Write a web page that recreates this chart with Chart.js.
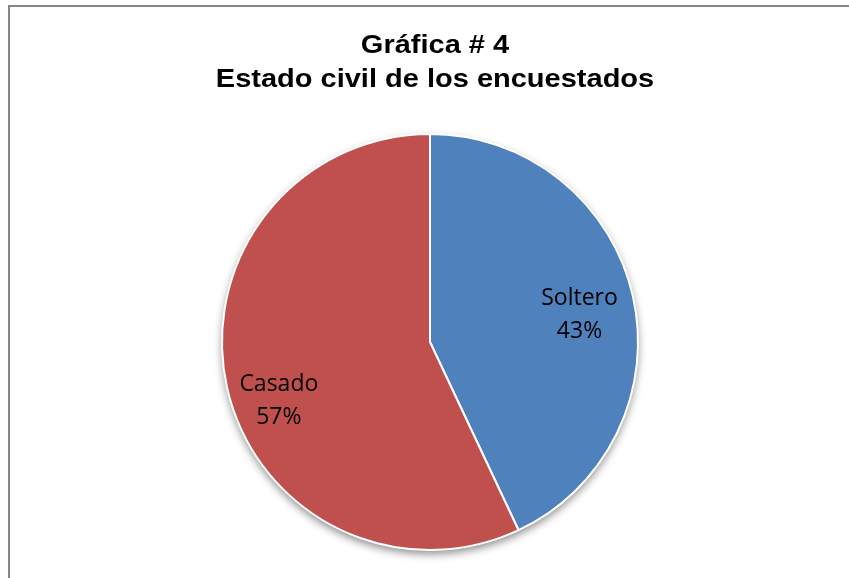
<!DOCTYPE html>
<html>
<head>
<meta charset="utf-8">
<script src="https://cdn.jsdelivr.net/npm/chart.js@4/dist/chart.umd.min.js"></script>
<style>
  html, body { margin: 0; padding: 0; background: #fff; }
  #wrap { position: relative; width: 849px; height: 578px; }
</style>
</head>
<body>
<div id="wrap"><canvas id="estadoChart" width="849" height="578"></canvas></div>
<script>
// ==================== DATA ====================
const categories = ['Soltero', 'Casado'];
const percentages = [43, 57];
const sliceColors = ['#4F81BD', '#C0504D'];
const titleLines = ['Gráfica # 4', 'Estado civil de los encuestados'];

// ==================== PLUGINS ====================
// grey frame (only top and left edges are visible in the picture)
const framePlugin = {
    id: 'frame',
    beforeDraw(chart) {
        const ctx = chart.ctx;
        ctx.save();
        ctx.strokeStyle = '#868686';
        ctx.lineWidth = 2;
        ctx.strokeRect(9, 6, chart.width + 20, chart.height + 20);
        ctx.restore();
    }
};

// two line title, the original text is a bit stretched sideways
const titlePlugin = {
    id: 'wideTitle',
    afterDraw(chart, args, opts) {
        const ctx = chart.ctx;
        ctx.save();
        ctx.font = opts.font;
        ctx.fillStyle = '#000';
        ctx.textAlign = 'center';
        ctx.textBaseline = 'alphabetic';
        ctx.translate(opts.x, 0);
        ctx.scale(opts.stretch, 1);
        titleLines.forEach(function(line, i) {
            ctx.fillText(line, 0, opts.firstBaseline + i * opts.lineGap);
        });
        ctx.restore();
    }
};

// soft drop shadow under the pie
const shadowPlugin = {
    id: 'pieShadow',
    beforeDatasetsDraw(chart) {
        const arc = chart.getDatasetMeta(0).data[0];
        if (!arc) return;
        const ctx = chart.ctx;
        ctx.save();
        ctx.shadowColor = 'rgba(0,0,0,0.45)';
        ctx.shadowBlur = 9;
        ctx.shadowOffsetY = 4;
        ctx.fillStyle = '#ffffff';
        ctx.beginPath();
        ctx.arc(arc.x, arc.y, arc.outerRadius, 0, Math.PI * 2);
        ctx.fill();
        ctx.restore();
    }
};

// data labels inside the slices
const labelPlugin = {
    id: 'sliceLabels',
    afterDatasetsDraw(chart, args, opts) {
        const ctx = chart.ctx;
        const meta = chart.getDatasetMeta(0);
        ctx.save();
        ctx.font = opts.font;
        ctx.fillStyle = '#000';
        ctx.textAlign = 'center';
        ctx.textBaseline = 'middle';
        meta.data.forEach(function(arc, i) {
            const p = arc.getProps(['x', 'y', 'startAngle', 'endAngle', 'outerRadius'], true);
            const place = opts.placement[i] || { r: 0.75, shift: 0 };
            const mid = (p.startAngle + p.endAngle) / 2 + place.shift * Math.PI / 180;
            const rad = p.outerRadius * place.r;
            const cx = p.x + Math.cos(mid) * rad;
            const cy = p.y + Math.sin(mid) * rad;
            const gap = opts.lineGap;
            ctx.fillText(categories[i], cx, cy - gap / 2);
            ctx.fillText(percentages[i] + '%', cx, cy + gap / 2);
        });
        ctx.restore();
    }
};

// ==================== CHART ====================
const ctx = document.getElementById('estadoChart');
const estadoChart = new Chart(ctx, {
    type: 'pie',
    data: {
        labels: categories,
        datasets: [
            {
                data: percentages,
                backgroundColor: sliceColors,
                borderColor: '#ffffff',
                borderWidth: 2
            }
        ]
    },
    options: {
        responsive: false,
        animation: false,
        layout: {
            padding: { top: 133, bottom: 27, left: 11, right: 0 }
        },
        plugins: {
            legend: { display: false },
            tooltip: { enabled: false },
            title: { display: false },
            wideTitle: {
                font: 'bold 25px "Liberation Sans", Arial, sans-serif',
                x: 435,
                stretch: 1.16,
                firstBaseline: 53,
                lineGap: 34
            },
            sliceLabels: {
                font: '23px "Open Sans", sans-serif',
                lineGap: 33,
                placement: [
                    { r: 0.73, shift: 2.5 },
                    { r: 0.78, shift: -8.7 }
                ]
            }
        }
    },
    plugins: [framePlugin, shadowPlugin, labelPlugin, titlePlugin]
});
</script>
</body>
</html>
